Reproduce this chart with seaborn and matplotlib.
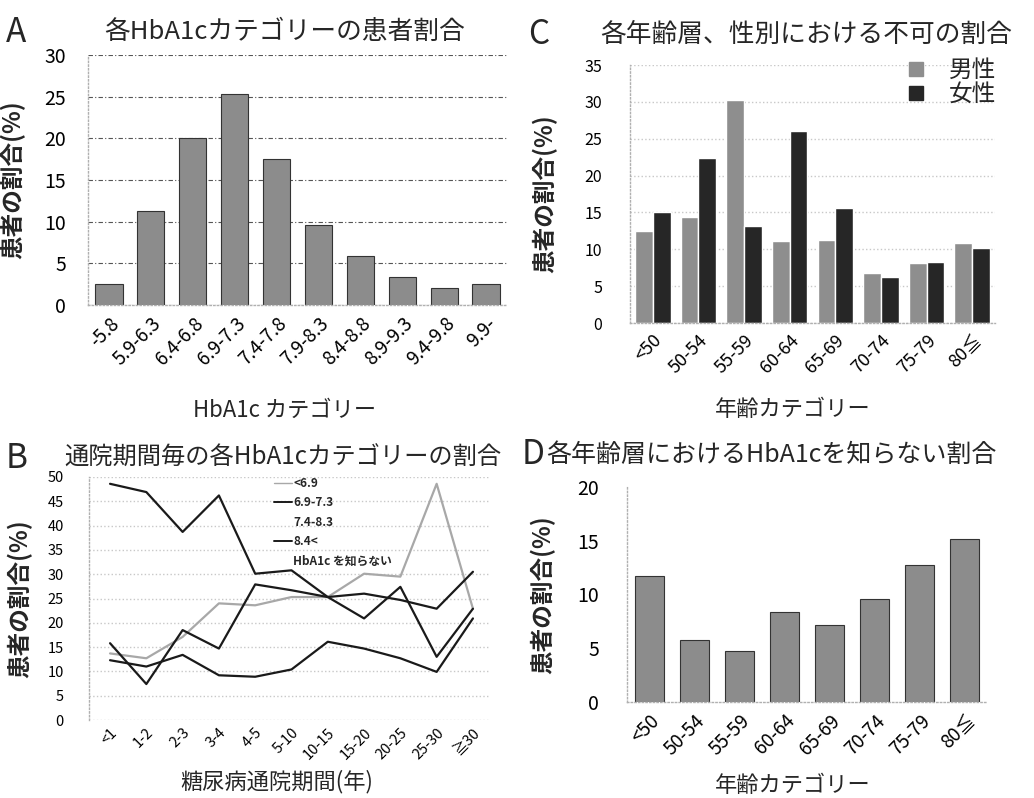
import numpy as np
import pandas as pd
import matplotlib
matplotlib.use('Agg')
import matplotlib.pyplot as plt
from matplotlib.lines import Line2D
import seaborn as sns

sns.set_style('white')
plt.rcParams['font.family'] = ['Noto Sans CJK JP', 'DejaVu Sans']

# Panel A: share of patients per HbA1c category
hba1c_cats = ['-5.8', '5.9-6.3', '6.4-6.8', '6.9-7.3', '7.4-7.8', '7.9-8.3',
              '8.4-8.8', '8.9-9.3', '9.4-9.8', '9.9-']
hba1c_share = [2.5, 11.3, 20.0, 25.3, 17.5, 9.6, 5.9, 3.3, 2.0, 2.5]

# Panel B: share of each HbA1c category by years of attendance
duration_cats = ['<1', '1-2', '2-3', '3-4', '4-5', '5-10', '10-15', '15-20',
                 '20-25', '25-30', '≧30']
b_lt69 = [13.7, 12.7, 17.1, 24.0, 23.6, 25.3, 25.3, 30.1, 29.5, 48.6, 22.9]
b_69_73 = [15.8, 7.4, 18.5, 14.7, 27.9, 26.7, 25.3, 26.0, 24.7, 22.9, 30.5]
b_gt84 = [12.3, 11.0, 13.4, 9.2, 8.9, 10.4, 16.1, 14.7, 12.7, 9.9, 20.9]
b_unknown = [48.6, 46.9, 38.7, 46.2, 30.1, 30.8, 25.3, 20.9, 27.4, 13.0, 22.9]

# Panel C: share of "fail" by age group and sex
age_cats = ['<50', '50-54', '55-59', '60-64', '65-69', '70-74', '75-79', '80≦']
male_share = [12.5, 14.4, 30.3, 11.1, 11.3, 6.8, 8.1, 10.8]
female_share = [15.0, 22.4, 13.2, 26.0, 15.6, 6.2, 8.3, 10.2]

# Panel D: share not knowing their HbA1c by age group
unknown_share = [11.7, 5.8, 4.7, 8.4, 7.2, 9.6, 12.7, 15.2]

W, H = 1034, 798
fig = plt.figure(figsize=(W / 100, H / 100), dpi=100)


def px_axes(left, top, right, bottom):
    return fig.add_axes([left / W, 1 - bottom / H, (right - left) / W, (bottom - top) / H])


def style_axes(ax):
    for s in ['top', 'right']:
        ax.spines[s].set_visible(False)
    for s in ['left', 'bottom']:
        ax.spines[s].set_color('#b0b0b0')
        ax.spines[s].set_linestyle(':')
        ax.spines[s].set_linewidth(1)
    ax.tick_params(axis='both', length=0, colors='black')
    ax.set_xlabel('')
    ax.set_ylabel('患者の割合(%)', fontsize=17, fontweight='bold')


bar_gray = '#8c8c8c'
edge = '#333333'

# ---- A ----
axA = px_axes(88, 55, 507, 305)
sns.barplot(x=hba1c_cats, y=hba1c_share, color=bar_gray, saturation=1,
            width=0.65, edgecolor=edge, linewidth=0.8, ax=axA)
axA.set_ylim(0, 30)
axA.set_yticks(range(0, 31, 5))
axA.yaxis.grid(True, color='#555555', linestyle=(0, (4, 2, 1, 2)), linewidth=0.8)
axA.set_axisbelow(True)
style_axes(axA)
axA.tick_params(axis='y', labelsize=14, pad=16)
axA.tick_params(axis='x', labelsize=13.5, pad=6)
plt.setp(axA.get_xticklabels(), rotation=45, ha='right', rotation_mode='anchor')
axA.yaxis.set_label_coords(-0.15, 0.5)

# ---- C ----
axC = px_axes(630, 65, 995, 323)
dfC = pd.DataFrame({'age': age_cats * 2,
                    'share': male_share + female_share,
                    'sex': ['男性'] * len(age_cats) + ['女性'] * len(age_cats)})
sns.barplot(data=dfC, x='age', y='share', hue='sex',
            palette={'男性': '#8e8e8e', '女性': '#262626'}, saturation=1,
            width=0.78, gap=0, ax=axC, legend=False)
axC.set_ylim(0, 35)
axC.set_yticks(range(0, 36, 5))
axC.yaxis.grid(True, color='#c8c8c8', linestyle=':', linewidth=1)
axC.set_axisbelow(True)
style_axes(axC)
axC.tick_params(axis='y', labelsize=11.5, pad=20)
axC.tick_params(axis='x', labelsize=13, pad=6)
plt.setp(axC.get_xticklabels(), rotation=45, ha='right', rotation_mode='anchor')
axC.yaxis.set_label_coords(-0.2, 0.5)
handles = [Line2D([], [], marker='s', linestyle='', markersize=10,
                  markerfacecolor=c, markeredgecolor=c) for c in ['#8e8e8e', '#262626']]
axC.legend(handles, ['男性', '女性'], loc='upper right', bbox_to_anchor=(1.03, 1.06),
           frameon=False, fontsize=17, handletextpad=0.4, labelspacing=0.05,
           borderaxespad=0)

# ---- B ----
axB = px_axes(89, 477, 490, 720)
dfB = pd.DataFrame({'duration': duration_cats * 4,
                    'share': b_lt69 + b_69_73 + b_gt84 + b_unknown,
                    'cat': (['<6.9'] * 11 + ['6.9-7.3'] * 11 + ['8.4<'] * 11
                            + ['HbA1c を知らない'] * 11)})
sns.lineplot(data=dfB, x='duration', y='share', hue='cat',
             palette={'<6.9': '#a8a8a8', '6.9-7.3': '#1a1a1a', '8.4<': '#1a1a1a',
                      'HbA1c を知らない': '#1a1a1a'},
             linewidth=1.6, sort=False, legend=False, ax=axB)
axB.set_ylim(0, 50)
axB.set_yticks(range(0, 51, 5))
axB.set_xlim(-0.58, 10.47)
axB.yaxis.grid(True, color='#c8c8c8', linestyle=':', linewidth=1)
axB.set_axisbelow(True)
style_axes(axB)
axB.spines['bottom'].set_visible(False)
axB.tick_params(axis='y', labelsize=10.5, pad=18)
axB.tick_params(axis='x', labelsize=10.5, pad=4)
plt.setp(axB.get_xticklabels(), rotation=45, ha='right', rotation_mode='anchor')
axB.yaxis.set_label_coords(-0.14, 0.5)
leg_handles = [Line2D([], [], color='#a8a8a8', lw=1),
               Line2D([], [], color='#1a1a1a', lw=1.4),
               Line2D([], [], color='none'),
               Line2D([], [], color='#1a1a1a', lw=1.4),
               Line2D([], [], color='none')]
axB.legend(leg_handles, ['<6.9', '6.9-7.3', '7.4-8.3', '8.4<', 'HbA1c を知らない'],
           loc='upper left', bbox_to_anchor=(0.45, 1.02), frameon=False,
           prop={'size': 8.5, 'weight': 'bold'}, handlelength=1.5,
           handletextpad=0.1, labelspacing=0.55, borderaxespad=0)

# ---- D ----
axD = px_axes(627, 487, 987, 702)
sns.barplot(x=age_cats, y=unknown_share, color=bar_gray, saturation=1,
            width=0.64, edgecolor=edge, linewidth=0.8, ax=axD)
axD.set_ylim(0, 20)
axD.set_yticks(range(0, 21, 5))
style_axes(axD)
axD.tick_params(axis='y', labelsize=14, pad=20)
axD.tick_params(axis='x', labelsize=13.5, pad=6)
plt.setp(axD.get_xticklabels(), rotation=45, ha='right', rotation_mode='anchor')
axD.yaxis.set_label_coords(-0.2, 0.5)

# panel letters, titles and x-axis labels
fig.text(6 / W, 1 - 32 / H, 'A', fontsize=24, va='center')
fig.text(285 / W, 1 - 32 / H, '各HbA1cカテゴリーの患者割合', fontsize=18.5, ha='center', va='center')
fig.text(528 / W, 1 - 35 / H, 'C', fontsize=24, va='center')
fig.text(600 / W, 1 - 35 / H, '各年齢層、性別における不可の割合', fontsize=18.5, va='center')
fig.text(6 / W, 1 - 458 / H, 'B', fontsize=24, va='center')
fig.text(64 / W, 1 - 458 / H, '通院期間毎の各HbA1cカテゴリーの割合', fontsize=17.5, va='center')
fig.text(522 / W, 1 - 455 / H, 'D', fontsize=24, va='center')
fig.text(546 / W, 1 - 455 / H, '各年齢層におけるHbA1cを知らない割合', fontsize=18, va='center')

fig.text(285 / W, 1 - 410 / H, 'HbA1c カテゴリー', fontsize=16, ha='center', va='center')
fig.text(793 / W, 1 - 410 / H, '年齢カテゴリー', fontsize=16, ha='center', va='center')
fig.text(277 / W, 1 - 782 / H, '糖尿病通院期間(年)', fontsize=16, ha='center', va='center')
fig.text(793 / W, 1 - 785 / H, '年齢カテゴリー', fontsize=16, ha='center', va='center')

fig.savefig('out.png', dpi=100, facecolor='white')
